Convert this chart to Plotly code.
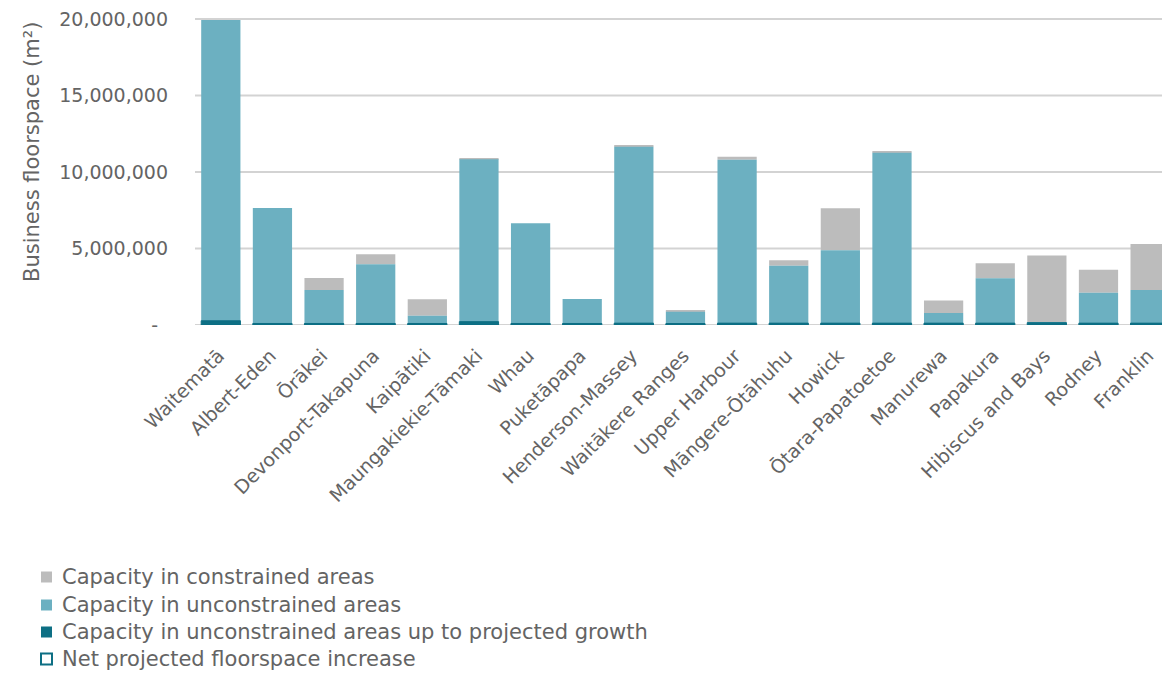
import plotly.graph_objects as go

categories = ["Waitematā", "Albert-Eden", "Ōrākei", "Devonport-Takapuna", "Kaipātiki",
              "Maungakiekie-Tāmaki", "Whau", "Puketāpapa", "Henderson-Massey",
              "Waitākere Ranges", "Upper Harbour", "Māngere-Ōtāhuhu", "Howick",
              "Ōtara-Papatoetoe", "Manurewa", "Papakura", "Hibiscus and Bays",
              "Rodney", "Franklin"]

# total capacity in unconstrained areas (m²), includes the part up to projected growth
unconstrained_capacity = [20000000, 7650000, 2290000, 3970000, 610000, 10830000, 6650000,
                          1700000, 11660000, 870000, 10800000, 3880000, 4880000, 11260000,
                          780000, 3050000, 180000, 2110000, 2290000]
# capacity in constrained areas (m²)
constrained_capacity = [0, 0, 780000, 650000, 1070000, 70000, 0, 0, 60000, 90000, 200000,
                        350000, 2750000, 70000, 830000, 980000, 4370000, 1510000, 3000000]
# capacity in unconstrained areas up to projected growth (m²)
growth_capacity = [280000, 100000, 100000, 100000, 100000, 220000, 100000, 100000, 120000,
                   80000, 120000, 120000, 120000, 120000, 120000, 120000, 150000, 120000, 120000]
# net projected floorspace increase (m²)
net_increase = [280000, 100000, 100000, 100000, 100000, 220000, 100000, 100000, 120000,
                80000, 120000, 120000, 120000, 120000, 120000, 120000, 150000, 120000, 120000]

y_tick_vals = [0, 5000000, 10000000, 15000000, 20000000]
y_tick_text = ["-\u00a0\u2009", "5,000,000", "10,000,000", "15,000,000", "20,000,000"]

legend_labels = ["Capacity in constrained areas", "Capacity in unconstrained areas",
                 "Capacity in unconstrained areas up to projected growth",
                 "Net projected floorspace increase"]

FONT = "DejaVu Sans"
TXT = "#646464"
GREY = "#bcbcbc"
TEAL = "#6cb0c1"
DARK = "#0d6f84"
GRID = "#d3d3d3"
W = 0.76

# layout geometry (figure pixels); y range slightly above 20M so the top gridline shows
Y_MAX = 20400000
L, T, H_PLOT = 187, 5, 312
W_PLOT = 1170 - L


def px_x(fx):
    return (fx - L) / W_PLOT


def px_y(fy):
    return (T + H_PLOT - fy) / H_PLOT


unc_height = [u - g for u, g in zip(unconstrained_capacity, growth_capacity)]

fig = go.Figure()
fig.add_trace(go.Bar(name=legend_labels[0], x=categories,
                     y=constrained_capacity, base=unconstrained_capacity,
                     marker=dict(color=GREY, line=dict(width=0)), width=W))
fig.add_trace(go.Bar(name=legend_labels[1], x=categories,
                     y=unc_height, base=growth_capacity,
                     marker=dict(color=TEAL, line=dict(width=0)), width=W))
fig.add_trace(go.Bar(name=legend_labels[2],
                     x=categories, y=growth_capacity, base=[0] * len(categories),
                     marker=dict(color=DARK, line=dict(width=0)), width=W))
fig.add_trace(go.Bar(name=legend_labels[3], x=categories,
                     y=net_increase, base=[0] * len(categories),
                     marker=dict(color="rgba(255,255,255,0)", line=dict(color=DARK, width=1)),
                     width=W))

shapes = []
annotations = []

# horizontal gridlines at the y tick values; the top one is drawn above so it stays visible
top_tick = max(y_tick_vals)
for v in y_tick_vals:
    shapes.append(dict(type="line", xref="paper", yref="y", x0=0, x1=1, y0=v, y1=v,
                       layer="above" if v == top_tick else "between",
                       line=dict(color=GRID, width=2)))

# manual legend (shapes + text)
legend_fills = [GREY, TEAL, DARK, "white"]
legend_lines = [GREY, TEAL, DARK, DARK]
legend_line_w = [0, 0, 0, 2]
row_y = [569, 597, 624, 651]
for lab, fc, lc, lw, ry in zip(legend_labels, legend_fills, legend_lines, legend_line_w, row_y):
    shapes.append(dict(type="rect", xref="paper", yref="paper",
                       x0=px_x(33), x1=px_x(44), y0=px_y(ry + 5.5), y1=px_y(ry - 5.5),
                       fillcolor=fc, line=dict(color=lc, width=lw)))
    annotations.append(dict(text=lab, xref="paper", yref="paper", x=px_x(52), y=px_y(ry),
                            xanchor="left", yanchor="middle", showarrow=False,
                            font=dict(family=FONT, size=21, color=TXT)))

annotations.append(dict(text="Business floorspace (m²)", textangle=-90, xref="paper",
                        yref="paper", x=0, xshift=-163, y=px_y(144), xanchor="center",
                        yanchor="middle", showarrow=False,
                        font=dict(family=FONT, size=21, color=TXT)))

fig.update_layout(
    width=1170, height=677,
    barmode="overlay",
    plot_bgcolor="white", paper_bgcolor="white",
    margin=dict(l=L, r=0, t=T, b=677 - T - H_PLOT),
    font=dict(family=FONT, size=19, color=TXT),
    showlegend=False,
    shapes=shapes,
    annotations=annotations,
)
fig.update_xaxes(range=[-0.5, 18.54], tickangle=-45, showgrid=False, ticks="",
                 ticklabelstandoff=15, ticklabelshift=-2,
                 tickfont=dict(family=FONT, size=19, color=TXT), showline=False)
fig.update_yaxes(range=[0, Y_MAX], tickvals=y_tick_vals, ticktext=y_tick_text,
                 showgrid=False, zeroline=False, ticks="",
                 ticklabelstandoff=26, ticklabeloverflow="allow",
                 tickfont=dict(family=FONT, size=19, color=TXT))

fig.write_html("out.html")
